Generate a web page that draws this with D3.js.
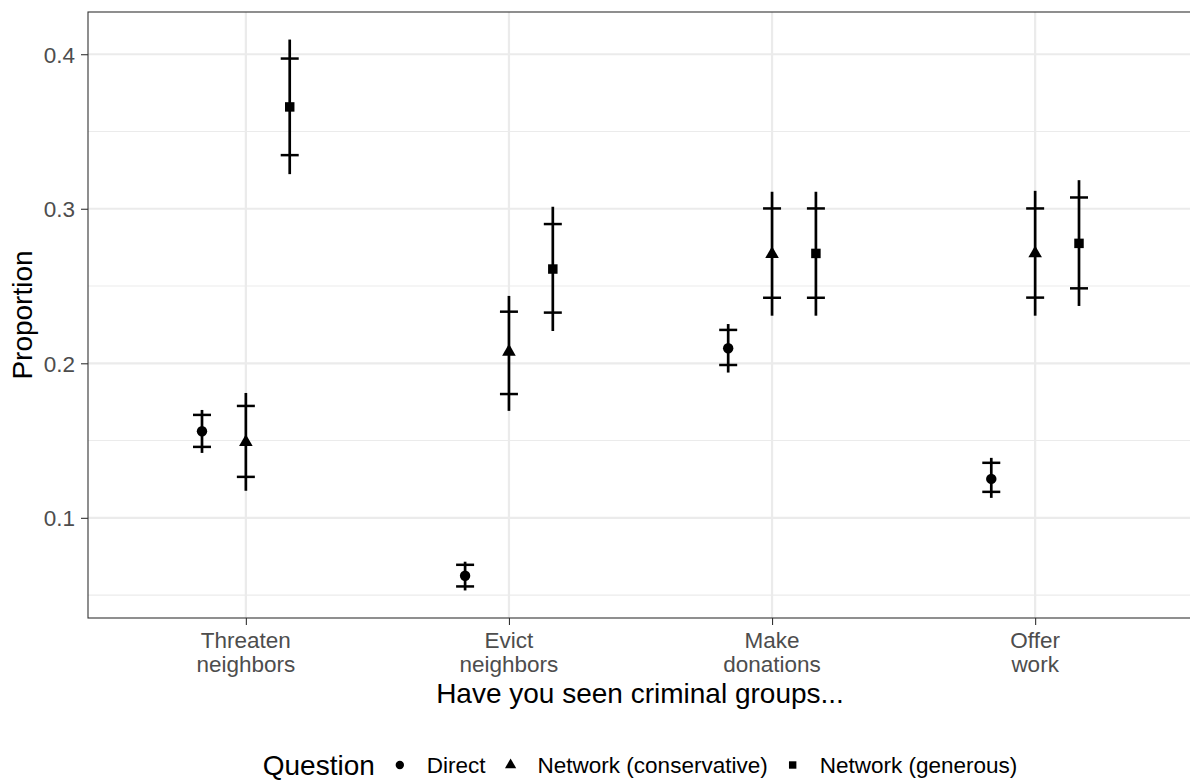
<!DOCTYPE html>
<html>
<head>
<meta charset="utf-8">
<script src="https://cdn.jsdelivr.net/npm/d3@7"></script>
<style>
  body { margin: 0; background: #fff; }
  text { font-family: "Liberation Sans", Arial, Helvetica, sans-serif; }
</style>
</head>
<body>
<div id="chart-area"></div>
<script>
// categories (two-line tick labels)
const categories = ["Threaten neighbors", "Evict neighbors", "Make donations", "Offer work"];
const categoryLines = [["Threaten", "neighbors"], ["Evict", "neighbors"], ["Make", "donations"], ["Offer", "work"]];
const questions = ["Direct", "Network (conservative)", "Network (generous)"];

// estimates, inner interval (ticks) and outer interval (line) per question
const directEst     = [0.156, 0.0625, 0.2097, 0.1252];
const directInLo    = [0.1459, 0.0556, 0.1989, 0.1168];
const directInHi    = [0.1666, 0.0696, 0.2216, 0.1356];
const directOutLo   = [0.142, 0.053, 0.194, 0.1129];
const directOutHi   = [0.1698, 0.0716, 0.2254, 0.1388];

const consEst   = [0.149, 0.2075, 0.2707, 0.2711];
const consInLo  = [0.1265, 0.1801, 0.2424, 0.2425];
const consInHi  = [0.1724, 0.2334, 0.3002, 0.3002];
const consOutLo = [0.1175, 0.1692, 0.2308, 0.2308];
const consOutHi = [0.1808, 0.2436, 0.311, 0.3116];

const genEst   = [0.3659, 0.261, 0.2711, 0.2776];
const genInLo  = [0.3347, 0.2328, 0.2424, 0.2485];
const genInHi  = [0.3972, 0.2901, 0.3002, 0.3073];
const genOutLo = [0.3224, 0.2209, 0.2308, 0.2371];
const genOutHi = [0.4095, 0.3013, 0.311, 0.3185];

const yTicks = [0.1, 0.2, 0.3, 0.4];
const yMinor = [0.05, 0.15, 0.25, 0.35];

const seriesArrays = [
    [directEst, directInLo, directInHi, directOutLo, directOutHi],
    [consEst, consInLo, consInHi, consOutLo, consOutHi],
    [genEst, genInLo, genInHi, genOutLo, genOutHi]
];

const rows = [];
questions.forEach((q, qi) => {
    categories.forEach((c, ci) => {
        const s = seriesArrays[qi];
        rows.push({ q, qi, c, est: s[0][ci], inLo: s[1][ci], inHi: s[2][ci], outLo: s[3][ci], outHi: s[4][ci] });
    });
});

const config = {
    width: 1190,
    height: 783,
    panel: { left: 88, right: 1193, top: 12, bottom: 618 }
};

const svg = d3.select('#chart-area')
    .append('svg')
    .attr("width", config.width)
    .attr("height", config.height)
    .style('background', '#fff');

const xScale = d3.scalePoint()
    .domain(categories)
    .range([config.panel.left, config.panel.right])
    .padding(0.6);

const lo = d3.min(rows, d => d.outLo), hi = d3.max(rows, d => d.outHi);
const pad = (hi - lo) * 0.05;
const yScale = d3.scaleLinear()
    .domain([lo - pad, hi + pad])
    .range([config.panel.bottom, config.panel.top]);

const dodge = xScale.step() * 0.1667;
const xPos = d => xScale(d.c) + (d.qi - 1) * dodge;

// grid
const grid = svg.append('g');
grid.selectAll('.minor').data(yMinor).enter().append('line')
    .attr('x1', config.panel.left).attr('x2', config.panel.right)
    .attr('y1', d => yScale(d)).attr('y2', d => yScale(d))
    .attr('stroke', '#ebebeb').attr('stroke-width', 1.1);
grid.selectAll('.major').data(yTicks).enter().append('line')
    .attr('x1', config.panel.left).attr('x2', config.panel.right)
    .attr('y1', d => yScale(d)).attr('y2', d => yScale(d))
    .attr('stroke', '#ebebeb').attr('stroke-width', 2.2);
grid.selectAll('.vmajor').data(categories).enter().append('line')
    .attr('x1', d => xScale(d)).attr('x2', d => xScale(d))
    .attr('y1', config.panel.top).attr('y2', config.panel.bottom)
    .attr('stroke', '#ebebeb').attr('stroke-width', 2.2);

// marks
const marks = svg.append('g');
marks.selectAll('.outer').data(rows).enter().append('line')
    .attr('x1', xPos).attr('x2', xPos)
    .attr('y1', d => yScale(d.outLo)).attr('y2', d => yScale(d.outHi))
    .attr('stroke', '#000').attr('stroke-width', 2.7);

const tickHalf = 9;
['inLo', 'inHi'].forEach(k => {
    marks.selectAll('.t' + k).data(rows).enter().append('line')
        .attr('x1', d => xPos(d) - tickHalf).attr('x2', d => xPos(d) + tickHalf)
        .attr('y1', d => yScale(d[k])).attr('y2', d => yScale(d[k]))
        .attr('stroke', '#000').attr('stroke-width', 2.5);
});

const symbols = [d3.symbolCircle, d3.symbolTriangle, d3.symbolSquare];
const sizes = [85, 80, 90];
marks.selectAll('.pt').data(rows).enter().append('path')
    .attr('transform', d => `translate(${xPos(d)},${yScale(d.est)})`)
    .attr('d', d => d3.symbol().type(symbols[d.qi]).size(sizes[d.qi])())
    .attr('fill', '#000');

// panel border
svg.append('rect')
    .attr('x', config.panel.left).attr('y', config.panel.top)
    .attr('width', config.panel.right - config.panel.left)
    .attr('height', config.panel.bottom - config.panel.top)
    .attr('fill', 'none').attr('stroke', '#333').attr('stroke-width', 1.1);

// y axis
const yAxisGroup = svg.append('g')
    .attr('transform', `translate(${config.panel.left}, 0)`)
    .call(d3.axisLeft(yScale).tickValues(yTicks).tickSize(7).tickPadding(6).tickFormat(d3.format('.1f')));
yAxisGroup.select('.domain').remove();
yAxisGroup.selectAll('.tick line').attr('stroke', '#333').attr('stroke-width', 1.1);
yAxisGroup.selectAll('text').attr('fill', '#4d4d4d').style('font-size', '22.5px').attr('dy', '0.35em');

// x axis
const xAxisGroup = svg.append('g')
    .attr('transform', `translate(0, ${config.panel.bottom})`)
    .call(d3.axisBottom(xScale).tickSize(7).tickFormat(''));
xAxisGroup.select('.domain').remove();
xAxisGroup.selectAll('.tick line').attr('stroke', '#333').attr('stroke-width', 1.1);

const xLabels = svg.append('g');
categories.forEach((c, i) => {
    const t = xLabels.append('text')
        .attr('x', xScale(c))
        .attr('y', 648)
        .attr('text-anchor', 'middle')
        .attr('fill', '#4d4d4d')
        .style('font-size', '22.5px');
    categoryLines[i].forEach((ln, j) => {
        t.append('tspan').attr('x', xScale(c)).attr('dy', j === 0 ? 0 : 23.5).text(ln);
    });
});

// axis titles
svg.append('text')
    .attr('x', 640)
    .attr('y', 703)
    .attr('text-anchor', 'middle')
    .style('font-size', '28px')
    .attr('fill', '#000')
    .text("Have you seen criminal groups...");

svg.append('text')
    .attr('transform', `translate(32, ${(config.panel.top + config.panel.bottom) / 2}) rotate(-90)`)
    .attr('text-anchor', 'middle')
    .style('font-size', '28px')
    .attr('fill', '#000')
    .text("Proportion");

// legend
const legend = svg.append('g');
const legY = 765;
const legTitle = legend.append('text')
    .attr('x', 0).attr('y', legY + 10)
    .style('font-size', '28px')
    .attr('fill', '#000')
    .text("Question");
let cx = legTitle.node().getComputedTextLength() + 25;
questions.forEach((q, i) => {
    legend.append('path')
        .attr('transform', `translate(${cx},${legY})`)
        .attr('d', d3.symbol().type(symbols[i]).size(55)())
        .attr('fill', '#000');
    const t = legend.append('text')
        .attr('x', cx + 27).attr('y', legY + 8)
        .style('font-size', '22.5px')
        .attr('fill', '#000')
        .text(q);
    cx += 27 + t.node().getComputedTextLength() + 25;
});
const legW = cx - 25;
legend.attr('transform', `translate(${640 - legW / 2}, 0)`);
</script>
</body>
</html>
